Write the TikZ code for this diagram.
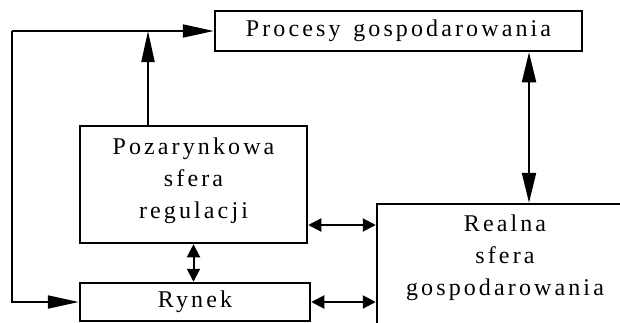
\documentclass[tikz,border=0pt]{standalone}
\usepackage{fontspec}
\setmainfont{Liberation Serif}[LetterSpace=13, WordSpace=1.4]
\usetikzlibrary{arrows.meta}
\begin{document}
\begin{tikzpicture}[x=1pt,y=-1pt,
  box/.style={draw, line width=2.5pt, inner sep=0pt},
  label/.style={font=\fontsize{24}{32}\selectfont, align=center, inner sep=0pt},
  conn/.style={line width=2pt},
  bigarrow/.style={conn, -{Triangle[length=31pt,width=13pt]}},
  bigboth/.style={conn, {Triangle[length=30pt,width=14pt]}-{Triangle[length=30pt,width=14pt]}},
  smallboth/.style={conn, {Triangle[length=13pt,width=13pt]}-{Triangle[length=13pt,width=13pt]}}]
\useasboundingbox (0,0) rectangle (620,322);
\clip (0,0) rectangle (620,322);

% boxes
\node[box, minimum width=367pt, minimum height=40pt] (procesy) at (398.5,31) {};
\node[label] (procesyText) at (398.5,31) {Procesy gospodarowania};

\node[box, minimum width=227pt, minimum height=117pt] (poza) at (193.5,184.5) {};
\node[label] (pozaText) at (193.5,181) {Pozarynkowa\\sfera\\regulacji};

\node[box, minimum width=230pt, minimum height=38pt] (rynek) at (195,302) {};
\node[label] (rynekText) at (195,302) {Rynek};

\node[box, minimum width=256pt, minimum height=140pt] (realna) at (505,274) {};
\node[label] (realnaText) at (505,258) {Realna\\sfera\\gospodarowania};

% feedback line on the left
\coordinate (tl) at (12,31);
\draw[bigarrow] (tl) -- (procesy.west);
\draw[bigarrow] (tl) |- (rynek.west);

% regulation feeds the processes
\coordinate (up) at (148,126);
\draw[bigarrow] (up) -- (up |- tl);

% two-way links
\coordinate (pr) at (529,31);
\draw[bigboth] (pr |- procesy.south) -- (pr |- realna.north);
\draw[smallboth] (poza.south) -- (poza.south |- rynek.north);
\coordinate (mid) at (0,225);
\draw[smallboth] (poza.east |- mid) -- (realna.west |- mid);
\draw[smallboth] (rynek.east) -- (realna.west |- rynek.east);
\end{tikzpicture}
\end{document}
